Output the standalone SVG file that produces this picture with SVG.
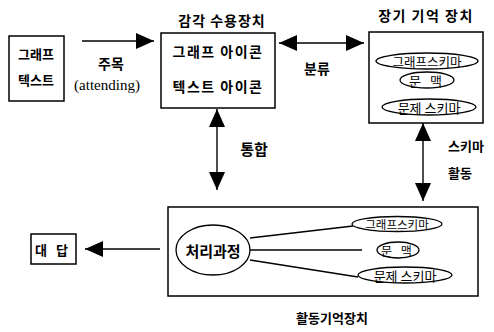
<svg xmlns="http://www.w3.org/2000/svg" width="494" height="332" viewBox="0 0 494 332">
<style>
.box{fill:#fff;stroke:#000;stroke-width:1.5}
.ell{fill:#fff;stroke:#000;stroke-width:1.3}
.ln{stroke:#000;stroke-width:1.4;fill:none}
.t{font-family:"Noto Sans CJK KR","Noto Sans",sans-serif;font-size:13px;fill:#000;text-anchor:middle;dominant-baseline:central;font-weight:bold}
.e{font-size:12px;font-weight:normal}
.s{font-family:"Liberation Serif",serif;font-size:15px;fill:#000;text-anchor:middle;dominant-baseline:central}
</style>
<defs>
<marker id="ah" markerUnits="userSpaceOnUse" markerWidth="19" markerHeight="17" refX="18" refY="8" orient="auto-start-reverse" viewBox="0 0 19 17">
<path d="M0,0 L18,8 L0,16 z" fill="#000"/>
</marker>
</defs>
<rect width="494" height="332" fill="#fff"/>
<g id="connectors">
<line class="ln" x1="82" y1="41" x2="154" y2="41" marker-end="url(#ah)"/>
<line class="ln" x1="279" y1="43" x2="364" y2="43" marker-start="url(#ah)" marker-end="url(#ah)"/>
<line class="ln" x1="217" y1="109" x2="217" y2="190" marker-start="url(#ah)" marker-end="url(#ah)"/>
<line class="ln" x1="423" y1="123" x2="423" y2="201" marker-start="url(#ah)" marker-end="url(#ah)"/>
<line class="ln" x1="160" y1="249" x2="85" y2="249" marker-end="url(#ah)"/>
</g>
<g id="source">
<rect class="box" x="9" y="36" width="55" height="65"/>
<text class="t" x="36" y="53">그래프</text>
<text class="t" x="36" y="79">텍스트</text>
</g>
<g id="attending-label">
<text class="t" x="111" y="63" style="font-size:14px">주목</text>
<text class="s" x="107" y="85">(attending)</text>
</g>
<g id="sensory">
<text class="t" x="222" y="20" style="font-size:14px;letter-spacing:1px">감각 수용장치</text>
<rect class="box" x="161" y="33" width="114" height="75"/>
<text class="t" x="218" y="51" style="font-size:14px;letter-spacing:1.5px">그래프 아이콘</text>
<text class="t" x="218" y="86" style="font-size:14px;letter-spacing:1.5px">텍스트 아이콘</text>
</g>
<g id="classify-label">
<text class="t" x="317" y="68" style="font-size:14px">분류</text>
</g>
<g id="ltm">
<text class="t" x="426" y="15" style="font-size:14px;letter-spacing:1.5px">장기 기억 장치</text>
<rect class="box" x="369" y="32" width="114" height="91"/>
<ellipse class="ell" cx="427" cy="61" rx="51" ry="8"/>
<text class="t e" x="427" y="61" style="font-size:12.5px">그래프스키마</text>
<ellipse class="ell" cx="427" cy="80" rx="27" ry="8"/>
<text class="t e" x="427" y="80" style="font-size:13px;letter-spacing:3px">문 맥</text>
<ellipse class="ell" cx="429" cy="107" rx="47" ry="8"/>
<text class="t e" x="429" y="107" style="font-size:13px">문제 스키마</text>
</g>
<g id="integrate-label">
<text class="t" x="254" y="148" style="font-size:15px">통합</text>
</g>
<g id="schema-label">
<text class="t" x="448" y="145" style="text-anchor:start">스키마</text>
<text class="t" x="448" y="172" style="text-anchor:start">활동</text>
</g>
<g id="working">
<rect class="box" x="168" y="207" width="310" height="89"/>
<ellipse class="ell" cx="213" cy="250" rx="37" ry="25"/>
<text class="t" x="213" y="250" style="font-size:15px">처리과정</text>
<line class="ln" x1="250" y1="238" x2="353" y2="226"/>
<line class="ln" x1="250" y1="250" x2="362" y2="250"/>
<line class="ln" x1="250" y1="260" x2="358" y2="277"/>
<ellipse class="ell" cx="397" cy="224" rx="45" ry="7.5"/>
<text class="t e" x="397" y="224" style="font-size:11.5px">그래프스키마</text>
<ellipse class="ell" cx="398" cy="250" rx="21" ry="8"/>
<text class="t e" x="398" y="250" style="letter-spacing:3px">문 맥</text>
<ellipse class="ell" cx="405" cy="275" rx="47" ry="8"/>
<text class="t e" x="405" y="275" style="font-size:13px">문제 스키마</text>
<text class="t" x="332" y="317" style="font-size:13px">활동기억장치</text>
</g>
<g id="answer">
<rect class="box" x="31" y="234" width="45" height="30"/>
<text class="t" x="53" y="249" style="letter-spacing:3px">대 답</text>
</g>
</svg>
